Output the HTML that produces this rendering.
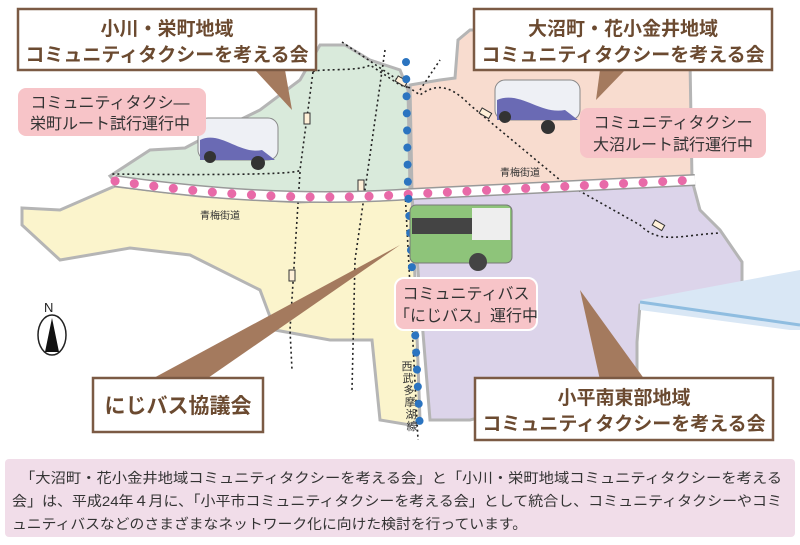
<!DOCTYPE html>
<html><head><meta charset="utf-8"><style>
body{margin:0;width:800px;height:540px;overflow:hidden;background:#fff;font-family:"Liberation Sans","Noto Sans CJK JP",sans-serif}
</style></head><body>
<svg width="800" height="540" viewBox="0 0 800 540" xmlns="http://www.w3.org/2000/svg" font-family="Liberation Sans, Noto Sans CJK JP, sans-serif">
<polygon points="110,176 150,150 185,148 215,132 260,110 300,80 320,45 345,45 370,60 400,70 408,90 410,190 300,198 200,192 115,182" fill="#d9eadb" stroke="#b5b5b5" stroke-width="3"/>
<polygon points="410,85 440,80 455,78 458,40 470,30 540,30 560,45 600,42 630,30 680,30 690,60 692,180 560,183 412,192" fill="#f8dccf" stroke="#b5b5b5" stroke-width="3"/>
<polygon points="22,208 60,210 115,186 200,196 300,202 412,196 420,420 410,425 380,420 372,340 330,340 275,330 260,290 190,255 130,248 60,260 22,225" fill="#fbf4cc" stroke="#b5b5b5" stroke-width="3"/>
<polygon points="412,196 560,186 692,180 700,210 720,230 742,262 742,285 640,305 637,342 637,378 470,420 430,420" fill="#dcd4ea" stroke="#b5b5b5" stroke-width="3"/>
<polygon points="640,300 800,270 800,330 790,330 640,310" fill="#d9e7f5"/>
<line x1="640" y1="302" x2="800" y2="325" stroke="#8fbde0" stroke-width="3"/>
<g fill="none" stroke="#222" stroke-width="1.6" stroke-dasharray="2,3">
<path d="M313,72 C316,68 360,72 370,65 L400,85 L410,88"/>
<path d="M313,72 L300,170 C300,175 200,175 110,174"/>
<path d="M300,172 L290,330 L292,370"/>
<path d="M385,50 L355,260 L352,390"/>
<path d="M342,42 L420,95 C440,80 455,90 470,105 L560,180 L640,225 C660,245 680,235 720,233"/>
<path d="M420,90 L440,60"/>
<path d="M405,190 L418,440"/>
</g>
<rect x="304" y="113" width="6" height="11" fill="#fff0d8" stroke="#333"/>
<rect x="358" y="180" width="6" height="11" fill="#fff0d8" stroke="#333"/>
<rect x="289" y="270" width="6" height="11" fill="#fff0d8" stroke="#333"/>
<rect x="480" y="110" width="11" height="6" fill="#fff0d8" stroke="#333" transform="rotate(30 485 113)"/>
<rect x="653" y="222" width="11" height="6" fill="#fff0d8" stroke="#333" transform="rotate(30 658 225)"/>
<rect x="396" y="78" width="11" height="6" fill="#fff0d8" stroke="#333" transform="rotate(30 401 81)"/>
<path d="M115,181 C200,193 300,202 412,194 L695,180" fill="none" stroke="#999" stroke-width="12"/>
<path d="M115,181 C200,193 300,202 412,194 L695,180" fill="none" stroke="#fff" stroke-width="9"/>
<path d="M115,181 C200,193 300,202 412,194 L695,180" fill="none" stroke="#e86aa8" stroke-width="9" stroke-linecap="round" stroke-dasharray="0.1,19.5"/>
<text x="200" y="219" font-size="10" fill="#333">青梅街道</text>
<text x="500" y="176" font-size="10" fill="#333">青梅街道</text>
<path d="M406,62 L408,190 L420,430" fill="none" stroke="#2b74c0" stroke-width="8" stroke-linecap="round" stroke-dasharray="0.1,17"/>
<g font-size="11" fill="#333" text-anchor="middle">
<text x="407" y="370">西</text><text x="408" y="382">武</text><text x="409" y="394">多</text><text x="410" y="406">摩</text><text x="411" y="418">湖</text><text x="412" y="430">線</text>
</g>
<polygon points="255,70 285,70 292,110" fill="#a47a5e"/>
<polygon points="600,70 625,70 596,100" fill="#a47a5e"/>
<polygon points="150,380 205,380 400,245" fill="#a47a5e"/>
<polygon points="600,380 645,380 580,290" fill="#a47a5e"/>
<g>
<rect x="198" y="118" width="80" height="42" rx="10" fill="#eef0f5" stroke="#888"/>
<path d="M200,140 C220,130 240,155 262,150 L275,160 L200,160Z" fill="#6a6ab4"/>
<circle cx="210" cy="157" r="6" fill="#333"/><circle cx="258" cy="163" r="7" fill="#333"/>
<rect x="495" y="80" width="85" height="40" rx="10" fill="#eef0f5" stroke="#888"/>
<path d="M497,100 C520,90 540,115 565,110 L578,120 L497,120Z" fill="#6a6ab4"/>
<circle cx="505" cy="117" r="6" fill="#333"/><circle cx="548" cy="127" r="7" fill="#333"/>
<rect x="410" y="205" width="102" height="58" rx="6" fill="#8ec47a" stroke="#777"/>
<rect x="412" y="218" width="60" height="16" fill="#444"/>
<rect x="472" y="208" width="38" height="32" fill="#eee"/>
<circle cx="478" cy="262" r="9" fill="#444"/>
</g>
<text x="44" y="312" font-size="13" fill="#222">N</text>
<ellipse cx="52" cy="335" rx="14" ry="20" fill="#fff" stroke="#222" stroke-width="1.5"/>
<polygon points="52,318 45,352 59,352" fill="#111"/>
<g fill="#fff" stroke="#7b5a44" stroke-width="2.5">
<rect x="18" y="9" width="298" height="61"/>
<rect x="474" y="9" width="298" height="61"/>
<rect x="93" y="378" width="170" height="54"/>
<rect x="475" y="378" width="298" height="62"/>
</g>
<g fill="#6b4a30" font-weight="bold" font-size="19" text-anchor="middle">
<text x="167" y="35">小川・栄町地域</text>
<text x="167" y="61">コミュニティタクシーを考える会</text>
<text x="623" y="35">大沼町・花小金井地域</text>
<text x="623" y="61">コミュニティタクシーを考える会</text>
<text x="178" y="413" font-size="21">にじバス協議会</text>
<text x="624" y="404">小平南東部地域</text>
<text x="624" y="430">コミュニティタクシーを考える会</text>
</g>
<g fill="#f7c4c8">
<rect x="18" y="88" width="188" height="48" rx="8"/>
<rect x="580" y="108" width="186" height="50" rx="8"/>
<rect x="395" y="278" width="142" height="52" rx="9" stroke="#fff" stroke-width="2"/>
</g>
<g fill="#333" font-size="16" text-anchor="middle">
<text x="110" y="108">コミュニティタクシ―</text>
<text x="110" y="129">栄町ルート試行運行中</text>
<text x="673" y="128">コミュニティタクシー</text>
<text x="673" y="150">大沼ルート試行運行中</text>
<text x="466" y="299">コミュニティバス</text>
<text x="466" y="321">「にじバス」運行中</text>
</g>
<rect x="5" y="459" width="790" height="78" rx="4" fill="#f1dde9"/>
<g fill="#333" font-size="14">
<text x="20" y="483" textLength="762" lengthAdjust="spacingAndGlyphs">「大沼町・花小金井地域コミュニティタクシーを考える会」と「小川・栄町地域コミュニティタクシーを考える</text>
<text x="12" y="506" textLength="770" lengthAdjust="spacingAndGlyphs">会」は、平成24年４月に、「小平市コミュニティタクシーを考える会」として統合し、コミュニティタクシーやコミ</text>
<text x="12" y="529" textLength="515" lengthAdjust="spacingAndGlyphs">ュニティバスなどのさまざまなネットワーク化に向けた検討を行っています。</text>
</g>
</svg>
</body></html>
